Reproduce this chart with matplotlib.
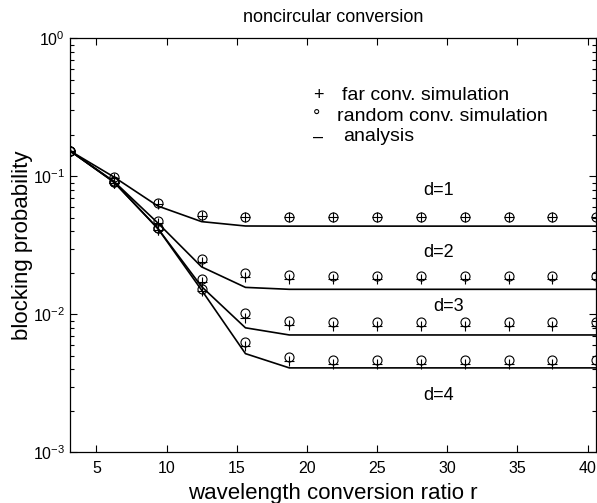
import numpy as np
import matplotlib
matplotlib.use('Agg')
import matplotlib.pyplot as plt
from matplotlib.ticker import LogLocator, NullFormatter

plt.rcParams['font.family'] = ['Liberation Sans', 'DejaVu Sans']
plt.rcParams['mathtext.fontset'] = 'custom'
plt.rcParams['mathtext.rm'] = 'Liberation Sans'

# wavelength conversion ratio r
r = [3.125, 6.25, 9.375, 12.5, 15.625, 18.75, 21.875, 25.0,
     28.125, 31.25, 34.375, 37.5, 40.625]

# analysis curves
ana_d1 = [0.153, 0.099, 0.061, 0.047, 0.0437, 0.0436, 0.0436, 0.0436,
          0.0436, 0.0436, 0.0436, 0.0436, 0.0436]
ana_d2 = [0.153, 0.092, 0.046, 0.0221, 0.0157, 0.0152, 0.0152, 0.0152,
          0.0152, 0.0152, 0.0152, 0.0152, 0.0152]
ana_d3 = [0.153, 0.091, 0.042, 0.0159, 0.0080, 0.0071, 0.0071, 0.0071,
          0.0071, 0.0071, 0.0071, 0.0071, 0.0071]
ana_d4 = [0.153, 0.091, 0.042, 0.0150, 0.0052, 0.0041, 0.0041, 0.0041,
          0.0041, 0.0041, 0.0041, 0.0041, 0.0041]

# random conversion simulation (circles)
rnd_d1 = [0.153, 0.099, 0.0637, 0.0527, 0.051, 0.051, 0.051, 0.051,
          0.051, 0.051, 0.051, 0.051, 0.051]
rnd_d2 = [0.153, 0.092, 0.0477, 0.0253, 0.0198, 0.0193, 0.019, 0.019,
          0.019, 0.019, 0.019, 0.019, 0.019]
rnd_d3 = [0.153, 0.091, 0.0425, 0.018, 0.0102, 0.0089, 0.0088, 0.0088,
          0.0088, 0.0088, 0.0088, 0.0088, 0.0088]
rnd_d4 = [0.153, 0.091, 0.0425, 0.0153, 0.0063, 0.0049, 0.0047, 0.0047,
          0.0047, 0.0047, 0.0047, 0.0047, 0.0047]

# far conversion simulation (crosses)
far_d1 = [0.153, 0.098, 0.063, 0.052, 0.051, 0.051, 0.051, 0.051,
          0.051, 0.051, 0.051, 0.051, 0.051]
far_d2 = [0.153, 0.090, 0.046, 0.024, 0.0187, 0.0182, 0.018, 0.018,
          0.018, 0.018, 0.018, 0.018, 0.018]
far_d3 = [0.153, 0.089, 0.041, 0.0172, 0.0095, 0.0084, 0.0083, 0.0083,
          0.0083, 0.0083, 0.0083, 0.0083, 0.0083]
far_d4 = [0.153, 0.089, 0.041, 0.0148, 0.0059, 0.0046, 0.0044, 0.0044,
          0.0044, 0.0044, 0.0044, 0.0044, 0.0044]

d_labels = ['d=1', 'd=2', 'd=3', 'd=4']
d_label_pos = [(29.4, 0.0796), (29.4, 0.0283), (30.1, 0.0115), (29.4, 0.0026)]

fig = plt.figure(figsize=(5.97, 5.03), dpi=100)
ax = fig.add_axes([0.1173, 0.1004, 0.8815, 0.8235])

for ana, rnd, far in [(ana_d1, rnd_d1, far_d1), (ana_d2, rnd_d2, far_d2),
                      (ana_d3, rnd_d3, far_d3), (ana_d4, rnd_d4, far_d4)]:
    ax.plot(r, ana, '-', color='black', linewidth=1.2)
    ax.plot(r, rnd, 'o', markerfacecolor='none', markeredgecolor='black',
            markersize=6.5, markeredgewidth=0.8)
    ax.plot(r, far, '+', color='black', markersize=7, markeredgewidth=0.8)

for lab, (xx, yy) in zip(d_labels, d_label_pos):
    ax.text(xx, yy, lab, fontsize=13, ha='center', va='center')

ax.set_yscale('log')
ax.set_xlim(3.125, 40.625)
ax.set_ylim(1e-3, 1e0)
ax.set_xticks([5, 10, 15, 20, 25, 30, 35, 40])
ax.yaxis.set_major_locator(LogLocator(base=10, numticks=10))
ax.yaxis.set_minor_locator(LogLocator(base=10, subs=np.arange(2, 10), numticks=10))
ax.yaxis.set_minor_formatter(NullFormatter())
ax.tick_params(which='both', direction='in', top=True, right=True,
               labelsize=11.5, width=0.8)
ax.tick_params(axis='x', pad=6)
ax.tick_params(which='major', length=5)
ax.tick_params(which='minor', length=3)
for sp in ax.spines.values():
    sp.set_linewidth(0.9)

ax.set_title('noncircular conversion', fontsize=13, pad=12)
ax.set_xlabel('wavelength conversion ratio r', fontsize=16, labelpad=5)
ax.set_ylabel('blocking probability', fontsize=16, labelpad=0)

# legend as text entries
leg_rows = [('+', 'far conv. simulation', 0.472, 0.516, 0.863),
            ('\u00b0', 'random conv. simulation', 0.468, 0.507, 0.810),
            ('\u2013', 'analysis', 0.471, 0.518, 0.762)]
for sym, txt, xs, xt, yy in leg_rows:
    ax.text(xs, yy, sym, transform=ax.transAxes, fontsize=13,
            ha='center', va='center')
    ax.text(xt, yy, txt, transform=ax.transAxes, fontsize=14,
            ha='left', va='center')

fig.savefig('out.png', dpi=100)
